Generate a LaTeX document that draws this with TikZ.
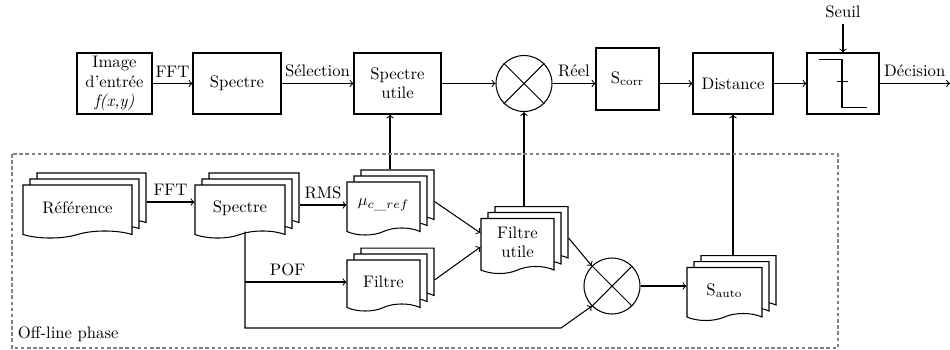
\documentclass[tikz,border=0pt]{standalone}
\usetikzlibrary{shapes.symbols}
\usetikzlibrary{shadows}

\begin{document}
\begin{tikzpicture}[x=0.02cm, y=-0.02cm, every node/.style={font=\fontsize{9.5}{11}\selectfont},
		box/.style={draw, semithick, minimum height=1.22cm, align=center, inner sep=1pt},
		doc/.style={draw, semithick, fill=white, tape, tape bend top=none, tape bend bottom=in and out, tape bend height=4pt, align=center, inner sep=1pt, minimum height=1.06cm,
			copy shadow={shadow xshift=0.28cm, shadow yshift=0.24cm, draw, fill=white, semithick},
			copy shadow={shadow xshift=0.14cm, shadow yshift=0.12cm, draw, fill=white, semithick}},
		mult/.style={draw, semithick, circle, minimum size=1.12cm, inner sep=0pt},
		link/.style={->, semithick},
		offline/.style={draw=gray, semithick, dash pattern=on 2pt off 1.5pt}]
		\useasboundingbox (0,0) rectangle (950,349);
		\node[box, minimum width=1.5cm] (img) at (114.5,83.5) {Image\\d'entrée\\\textit{f(x,y)}};
		\node[box, minimum width=1.76cm] (spec) at (237,83.5) {Spectre};
		\node[box, minimum width=1.74cm] (util) at (397.5,83.5) {Spectre\\utile};
		\node[mult] (mul) at (524,83.5) {};
		\node[box, minimum width=1.26cm, minimum height=1.24cm] (corr) at (627.5,79) {S\textsubscript{corr}};
		\node[box, minimum width=1.6cm] (dist) at (733,83.5) {Distance};
		\node[box, minimum width=1.44cm] (thr) at (843,83.5) {};
		\node (seuil) at (843,12) {Seuil};
		\coordinate (dec) at (950,83.5);
		\node[doc, minimum width=2.18cm] (ref) at (77.5,208) {Référence};
		\node[doc, minimum width=1.8cm] (sdoc) at (240,208) {Spectre};
		\node[doc, minimum width=1.46cm] (mu) at (383.5,205) {$\mu_{c\_ref}$};
		\node[doc, minimum width=1.46cm, minimum height=1.02cm] (filt) at (383.5,282) {Filtre};
		\node[doc, minimum width=1.46cm, minimum height=1.1cm] (futil) at (517.5,242.5) {Filtre\\utile};
		\node[mult] (mul2) at (612,286) {};
		\node[doc, minimum width=1.5cm] (sauto) at (724.5,290.5) {S\textsubscript{auto}};
		\draw[semithick] (mul.north west) -- (mul.south east) (mul.north east) -- (mul.south west);
		\draw[semithick] (mul2.north west) -- (mul2.south east) (mul2.north east) -- (mul2.south west);
		\draw[semithick, shift={(thr.center)}] (-24,-24) -- (-1,-24) -- (-1,24) -- (24,24) (-6,-2) -- (5,-2);
		\draw[link] (img) -- node[above]{FFT} (spec);
		\draw[link] (spec) -- node[above]{Sélection} (util);
		\draw[link] (util) -- (mul);
		\draw[link] (mul) -- node[above]{Réel} (mul -| corr.west);
		\draw[link] (corr.east |- dist) -- (dist);
		\draw[link] (dist) -- (thr);
		\draw[link] (thr) -- node[above]{Décision} (dec);
		\draw[link] (seuil) -- (thr);
		\draw[link] ([shift={(14,-6)}]ref.east) -- node[above]{FFT} ([shift={(0,-6)}]sdoc.west);
		\draw[link] ([shift={(14,-3)}]sdoc.east) -- node[above]{RMS} (mu.west);
		\coordinate (mutop) at ([shift={(6.5,-12)}]mu.north);
		\draw[link] (mutop) -- (mutop |- util.south);
		\draw[link] ([shift={(14,-3.5)}]mu.east) -- ([shift={(0,-9.5)}]futil.west);
		\draw[link] ([shift={(14,-2)}]filt.east) -- ([shift={(0,4.5)}]futil.west);
		\coordinate (futop) at ([shift={(6.5,-12)}]futil.north);
		\draw[link] (futop) -- (futop |- mul.south);
		\draw[link] ([shift={(14,-4.5)}]futil.east) -- (mul2.north west);
		\coordinate (sdocb) at ([shift={(5,0)}]sdoc.south);
		\coordinate (bend) at (561,328);
		\draw[link] (sdocb) |- (bend) -- (mul2.south west);
		\draw[link] (sdocb |- filt.west) -- node[above, pos=0.42]{POF} (filt.west);
		\draw[link] (mul2) -- (mul2 -| sauto.west);
		\coordinate (sautotop) at ([shift={(8.5,-12)}]sauto.north);
		\draw[link] (sautotop) -- (sautotop |- dist.south);
		\draw[offline] (12,154) rectangle (838,348);
		\node[anchor=south west, inner sep=2pt] (phase) at (14,346) {Off-line phase};
	\end{tikzpicture}
\end{document}
